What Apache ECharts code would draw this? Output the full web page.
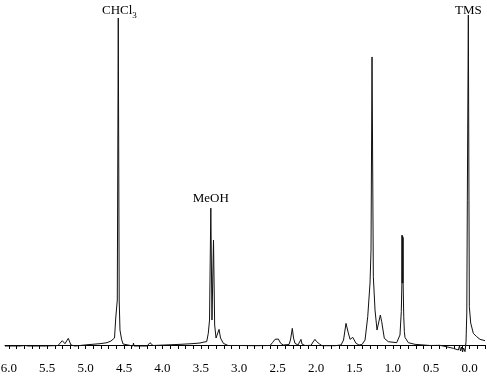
<!DOCTYPE html>
<html>
<head>
<meta charset="utf-8">
<script src="https://cdn.jsdelivr.net/npm/echarts/dist/echarts.min.js"></script>
<style>
html,body{margin:0;padding:0;background:#fff;}
#main{width:487px;height:380px;}
</style>
</head>
<body>
<div id="main"></div>
<script>
// chemical shift (ppm) and intensity
var shiftPpm = [
  6.050, 5.855, 5.790, 5.750, 5.529, 5.360, 5.304, 5.269, 5.226, 5.191, 5.139,
  4.969, 4.813, 4.722, 4.670, 4.644, 4.624, 4.608, 4.588, 4.575, 4.563, 4.553, 4.533, 4.513, 4.487,
  4.383, 4.377, 4.370, 4.201, 4.162, 4.123,
  3.967, 3.771, 3.615, 3.511, 3.459,
  3.424, 3.403, 3.387, 3.370, 3.355, 3.335, 3.320, 3.302, 3.283, 3.263, 3.244, 3.207, 3.146,
  2.990, 2.795, 2.599,
  2.564, 2.534, 2.512, 2.491, 2.460, 2.426,
  2.352, 2.333, 2.309, 2.293, 2.274, 2.235, 2.209, 2.196, 2.183, 2.144,
  2.065, 2.039, 2.014, 1.994, 1.978, 1.955, 1.922,
  1.753, 1.675, 1.642, 1.610, 1.583, 1.557, 1.522, 1.479, 1.440, 1.401,
  1.362, 1.327, 1.297, 1.284, 1.271, 1.254, 1.232, 1.206, 1.189, 1.163, 1.145, 1.111, 1.059, 0.950,
  0.907, 0.890, 0.882, 0.880, 0.878, 0.876, 0.874, 0.872, 0.870, 0.868, 0.866, 0.858, 0.850, 0.842, 0.798, 0.711,
  0.516, 0.385, 0.212, 0.147, 0.132, 0.118, 0.105, 0.092, 0.079, 0.060,
  0.047, 0.037, 0.030, 0.017, 0.004, -0.014, -0.048, -0.092, -0.135, -0.200
];
var intensity = [
  -0.3, -0.3, -0.15, -0.3, -0.3, -0.15, 1.3, 0.4, 2.0, 0.0, -0.3,
  0.1, 0.4, 0.7, 1.2, 1.8, 2.1, 8.1, 13.5, 98.2, 13.5, 4.5, 1.8, 0.3, -0.3,
  -0.3, 0.6, -0.3, -0.3, 0.7, -0.15,
  0.0, 0.2, 0.4, 0.6, 0.9,
  1.0, 3.5, 7.5, 41.1, 7.5, 31.5, 6.0, 2.1, 2.7, 4.7, 2.1, 0.5, -0.15,
  -0.15, -0.2, -0.15,
  0.8, 1.7, 1.2, 1.8, 0.5, 0.0,
  0.15, 1.5, 5.0, 2.1, 0.5, 0.0, 0.45, 1.7, 0.3, -0.15,
  -0.1, 0.9, 1.7, 1.05, 1.5, 0.3, -0.2,
  -0.2, 0.0, 1.5, 6.5, 3.9, 1.7, 2.3, 0.5, 0.0, 0.15,
  1.5, 8.5, 18.6, 28.5, 86.5, 20.5, 10.5, 4.5, 4.0, 9.0, 7.0, 2.0, 1.0, 0.7,
  3.0, 10.0, 18.6, 33.0, 18.6, 32.8, 18.6, 32.6, 18.6, 32.3, 18.6, 8.5, 4.0, 2.3, 0.7, 0.2,
  -0.15, -0.1, -1.0, -1.5, -0.3, -1.8, -0.6, -2.1, -0.9, -2.0,
  1.0, 9.6, 43.5, 99.1, 11.5, 6.6, 3.5, 2.5, 1.7, 1.3
];

// axis labels
var labelValues = [6.0, 5.5, 5.0, 4.5, 4.0, 3.5, 3.0, 2.5, 2.0, 1.5, 1.0, 0.5, 0.0];
var tickValues = [];
for (var t = -2; t <= 60; t++) {
  tickValues.push(t / 10);
}

// peak annotations
var peakNames = ['{a|CHCl}{s|3}', '{a|MeOH}', '{a|TMS}'];
var peakPpm = [4.560, 3.370, 0.017];
var peakTop = [98.2, 41.1, 99.1];
var labelGap = [0, 3, -3];

var spectrum = [];
for (var i = 0; i < shiftPpm.length; i++) {
  spectrum.push([shiftPpm[i], intensity[i]]);
}

var marks = [];
for (var j = 0; j < peakNames.length; j++) {
  marks.push({
    name: peakNames[j],
    coord: [peakPpm[j], peakTop[j]],
    label: { distance: labelGap[j] }
  });
}

var myChart = echarts.init(document.getElementById('main'));

var option = {
  animation: false,
  backgroundColor: '#fff',
  grid: { left: 5, right: 2, top: 12, bottom: 24, containLabel: false, outerBoundsMode: 'none' },
  xAxis: {
    type: 'value',
    inverse: true,
    min: -0.2,
    max: 6.05,
    splitLine: { show: false },
    axisLine: { lineStyle: { color: '#000', width: 1 } },
    axisTick: {
      length: 4,
      customValues: tickValues,
      lineStyle: { color: '#000' }
    },
    axisLabel: {
      customValues: labelValues,
      margin: 6,
      color: '#000',
      fontFamily: 'Liberation Serif',
      fontSize: 13,
      formatter: function (v) { return Math.abs(v).toFixed(1); }
    }
  },
  yAxis: {
    type: 'value',
    min: -3.3,
    max: 100,
    show: false
  },
  series: [{
    type: 'line',
    data: spectrum,
    showSymbol: false,
    symbol: 'none',
    sampling: null,
    lineStyle: { color: '#111', width: 1 },
    markPoint: {
      symbol: 'circle',
      symbolSize: 1,
      itemStyle: { color: 'rgba(0,0,0,0)' },
      label: {
        show: true,
        position: 'top',
        distance: 3,
        formatter: function (p) { return p.name; },
        rich: {
          a: { fontFamily: 'Liberation Serif', fontSize: 13, color: '#000', verticalAlign: 'bottom' },
          s: { fontFamily: 'Liberation Serif', fontSize: 9, color: '#000', verticalAlign: 'bottom', padding: [0, 0, -3, 0] }
        }
      },
      data: marks
    }
  }]
};

myChart.setOption(option);
window.onresize = myChart.resize;
</script>
</body>
</html>
